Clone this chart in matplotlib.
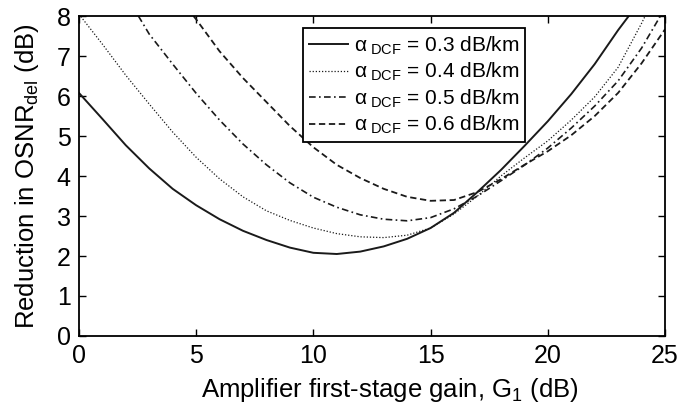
import matplotlib
matplotlib.use("Agg")
import matplotlib.pyplot as plt

plt.rcParams['font.family'] = ['Liberation Sans', 'DejaVu Sans']
plt.rcParams['mathtext.fontset'] = 'custom'
plt.rcParams['mathtext.rm'] = 'Liberation Sans'
plt.rcParams['mathtext.it'] = 'Liberation Sans:italic'

# Data
g_03 = [0, 1, 2, 3, 4, 5, 6, 7, 8, 9, 10, 11, 12, 13, 14, 15, 16, 17, 18, 19, 20, 21, 22, 23, 23.45]
r_03 = [6.08, 5.43, 4.77, 4.19, 3.68, 3.27, 2.92, 2.63, 2.4, 2.21, 2.08, 2.05, 2.11, 2.24, 2.43, 2.7,
        3.08, 3.6, 4.15, 4.75, 5.37, 6.05, 6.8, 7.65, 8.0]

g_04 = [0, 1, 2, 3, 4, 5, 6, 7, 8, 9, 10, 11, 12, 13, 14, 15, 16, 17, 18, 19, 20, 21, 22, 23, 24, 24.15]
r_04 = [8.05, 7.3, 6.52, 5.8, 5.1, 4.47, 3.93, 3.48, 3.13, 2.89, 2.7, 2.56, 2.48, 2.46, 2.52, 2.7,
        3.05, 3.5, 4.0, 4.45, 4.88, 5.4, 5.98, 6.72, 7.82, 8.0]

g_05 = [2.54, 3, 4, 5, 6, 7, 8, 9, 10, 11, 12, 13, 14, 15, 16, 17, 18, 19, 20, 21, 22, 23, 24, 24.8]
r_05 = [8.0, 7.55, 6.8, 6.07, 5.4, 4.8, 4.28, 3.83, 3.47, 3.22, 3.03, 2.92, 2.88, 2.96, 3.18, 3.5,
        3.88, 4.27, 4.7, 5.2, 5.75, 6.38, 7.2, 8.0]

g_06 = [4.89, 5, 6, 7, 8, 9, 10, 11, 12, 13, 14, 15, 16, 17, 18, 19, 20, 21, 22, 23, 24, 25]
r_06 = [8.0, 7.92, 7.12, 6.45, 5.85, 5.25, 4.72, 4.28, 3.95, 3.68, 3.48, 3.38, 3.4, 3.6, 3.92, 4.28,
        4.62, 5.02, 5.5, 6.08, 6.82, 7.67]

labels = ['α$_{\\ \\mathrm{DCF}}$ = 0.3 dB/km',
          'α$_{\\ \\mathrm{DCF}}$ = 0.4 dB/km',
          'α$_{\\ \\mathrm{DCF}}$ = 0.5 dB/km',
          'α$_{\\ \\mathrm{DCF}}$ = 0.6 dB/km']

x_ticks = [0, 5, 10, 15, 20, 25]
y_ticks = [0, 1, 2, 3, 4, 5, 6, 7, 8]

fig = plt.figure(figsize=(6.8, 4.07), dpi=100)
ax = fig.add_axes([0.116, 0.1745, 0.862, 0.786])

col = '#1a1a1a'
ax.plot(g_03, r_03, color=col, lw=1.4, ls='-', label=labels[0])
ax.plot(g_04, r_04, color=col, lw=0.9, ls=(0, (1, 1.5)), label=labels[1])
ax.plot(g_05, r_05, color=col, lw=1.2, ls=(0, (4, 2, 1, 2)), label=labels[2])
ax.plot(g_06, r_06, color=col, lw=1.3, ls=(0, (3.5, 2)), label=labels[3])

ax.set_xlim(0, 25)
ax.set_ylim(0, 8)
ax.set_xticks(x_ticks)
ax.set_yticks(y_ticks)
ax.tick_params(direction='in', top=True, right=True, length=5, width=1,
               labelsize=18, pad=6)
for s in ax.spines.values():
    s.set_linewidth(1.3)

ax.set_xlabel('Amplifier first-stage gain, G$_1$ (dB)', fontsize=18.5, labelpad=0)
ax.xaxis.set_label_coords(0.53, -0.125)
ax.set_ylabel(r'Reduction in OSNR$_{\mathrm{del}}$ (dB)', fontsize=18.5, labelpad=11)

leg = ax.legend(loc='upper left', bbox_to_anchor=(0.382, 0.962), fontsize=15,
                frameon=True, fancybox=False, edgecolor='black', framealpha=1,
                handlelength=1.85, handletextpad=0.3, labelspacing=0.2,
                borderpad=0.3, borderaxespad=0)
leg.get_frame().set_linewidth(1.3)

fig.savefig('out.png', dpi=100)
